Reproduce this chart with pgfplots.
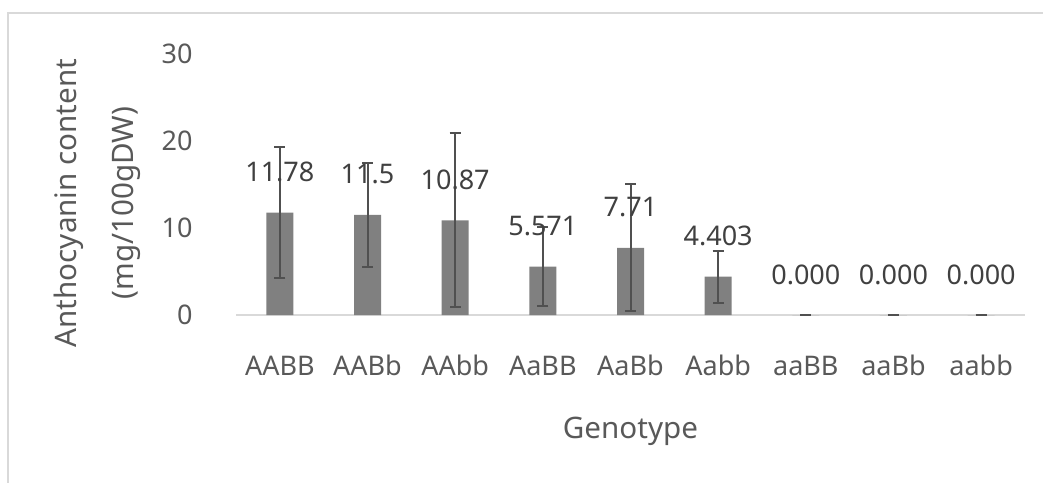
\documentclass[border=0pt]{standalone}
\usepackage{pgfplots}
\pgfplotsset{compat=1.18}
\usepackage{pgfplotstable}
\usepackage{fontspec}
\setmainfont{Noto Sans}
\definecolor{barc}{HTML}{808080}
\definecolor{errc}{HTML}{505050}
\definecolor{txt}{HTML}{595959}
\definecolor{valtxt}{HTML}{404040}
\definecolor{frame}{HTML}{D9D9D9}
\pgfplotstableread{
x y err label
0 11.78 7.5 11.78
1 11.5 6.0 11.5
2 10.87 10.0 10.87
3 5.571 4.5 5.571
4 7.71 7.3 7.71
5 4.403 3.0 4.403
6 0 0 0.000
7 0 0 0.000
8 0 0 0.000
}\datatable
\begin{document}
\begin{tikzpicture}[font=\fontsize{13.5}{16.2}\selectfont]
\useasboundingbox (0pt,0pt) rectangle (521.5pt,-241pt);
\clip (0pt,0pt) rectangle (521.5pt,-241pt);
\draw[frame, line width=0.9pt] (4pt,-250pt) -- (4pt,-6.5pt) -- (530pt,-6.5pt);
\begin{axis}[
  at={(118pt,-157.5pt)}, anchor=south west,
  scale only axis, width=394.5pt, height=130.5pt,
  xmin=-0.5, xmax=8.5, ymin=0, ymax=30,
  axis x line=bottom, axis y line=left,
  x axis line style={draw=frame, line width=1pt, -},
  y axis line style={draw=none},
  ytick={0,10,20,30},
  xtick={0,...,8},
  xticklabels={AABB,AABb,AAbb,AaBB,AaBb,Aabb,aaBB,aaBb,aabb},
  major tick length=0pt,
  tick style={draw=none},
  /pgf/number format/assume math mode=true,
  ticklabel style={text=txt},
  yticklabel style={anchor=east, inner sep=0pt, xshift=-21.5pt},
  xticklabel style={anchor=base, inner sep=0pt, yshift=-30pt},
  ylabel={Anthocyanin content\\[10.7pt](mg/100gDW)},
  ylabel style={at={(axis description cs:-0.1755,0.429)}, anchor=center, align=center, text=txt, rotate=0, font=\fontsize{14.8}{17.8}\selectfont},
  xlabel={Genotype},
  xlabel style={at={(axis description cs:0.5,-0.475)}, anchor=base, text=txt, font=\fontsize{14.8}{17.8}\selectfont},
  clip=false,
]
\addplot[ybar, bar width=13.5pt, fill=barc, draw=none,
  point meta=explicit symbolic,
  nodes near coords,
  nodes near coords style={anchor=base, inner sep=0pt, yshift=15.5pt, text=valtxt},
  error bars/.cd, y dir=both, y explicit,
  error bar style={line width=1pt, errc},
  error mark options={rotate=90, mark size=2.75pt, line width=1pt, errc},
] table[x=x, y=y, y error=err, meta=label] {\datatable};
\end{axis}
\end{tikzpicture}
\end{document}
